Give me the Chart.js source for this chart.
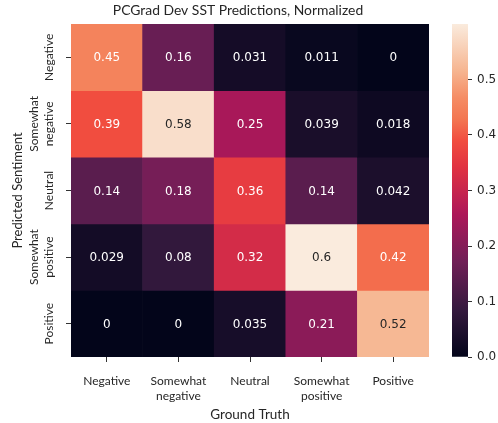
<!DOCTYPE html>
<html>
<head>
<meta charset="utf-8">
<script src="https://cdn.jsdelivr.net/npm/chart.js@4"></script>
<style>
    body { margin: 0; background: #ffffff; }
    #main { position: absolute; left: 0; top: 0; width: 476px; height: 423px; }
    #bar { position: absolute; left: 440px; top: 0; width: 58px; height: 423px; }
</style>
</head>
<body>
<div id="main"><canvas id="heatmap"></canvas></div>
<div id="bar"><canvas id="colorbar"></canvas></div>
<script>
// Ground truth (columns) and predicted sentiment (rows)
const truthLabels = ['Negative', ['Somewhat', 'negative'], 'Neutral', ['Somewhat', 'positive'], 'Positive'];
const predLabels = ['Negative', ['Somewhat', 'negative'], 'Neutral', ['Somewhat', 'positive'], 'Positive'];

// One array per predicted row, values by ground-truth column
const predNegative = [0.45, 0.16, 0.031, 0.011, 0];
const predSomewhatNegative = [0.39, 0.58, 0.25, 0.039, 0.018];
const predNeutral = [0.14, 0.18, 0.36, 0.14, 0.042];
const predSomewhatPositive = [0.029, 0.08, 0.32, 0.6, 0.42];
const predPositive = [0, 0, 0.035, 0.21, 0.52];
const rows = [predNegative, predSomewhatNegative, predNeutral, predSomewhatPositive, predPositive];

const colorbarTicks = [0, 0.1, 0.2, 0.3, 0.4, 0.5];
const vmin = 0;
const vmax = Math.max(...rows.flat());

const chartTitle = 'PCGrad Dev SST Predictions, Normalized';

// seaborn "rocket" colormap, [position, colour]
const rocket = [
    [0, '#03051a'],
    [1 / 7, '#35193e'],
    [2 / 7, '#701f57'],
    [3 / 7, '#ad1759'],
    [4 / 7, '#e13342'],
    [0.65, '#f14d3f'],
    [5 / 7, '#f37651'],
    [0.78, '#f58d65'],
    [6 / 7, '#f6b48f'],
    [1, '#faebdd']
];

function hexToRgb(h) {
    return [parseInt(h.slice(1, 3), 16), parseInt(h.slice(3, 5), 16), parseInt(h.slice(5, 7), 16)];
}

function rocketColor(t) {
    t = Math.min(1, Math.max(0, t));
    let i = 0;
    while (i < rocket.length - 2 && t > rocket[i + 1][0]) i++;
    const f = (t - rocket[i][0]) / (rocket[i + 1][0] - rocket[i][0]);
    const a = hexToRgb(rocket[i][1]);
    const b = hexToRgb(rocket[i + 1][1]);
    return a.map((v, k) => Math.round(v + (b[k] - v) * f));
}

function cellColor(v) {
    const c = rocketColor((v - vmin) / (vmax - vmin));
    return `rgb(${c[0]}, ${c[1]}, ${c[2]})`;
}

// same rule seaborn uses to pick annotation colour
function textColor(v) {
    const lin = rocketColor((v - vmin) / (vmax - vmin)).map(x => {
        x = x / 255;
        return x <= 0.03928 ? x / 12.92 : Math.pow((x + 0.055) / 1.055, 2.4);
    });
    const lum = 0.2126 * lin[0] + 0.7152 * lin[1] + 0.0722 * lin[2];
    return lum > 0.408 ? '#262626' : '#ffffff';
}

function fmt(v) {
    return parseFloat(v.toPrecision(2)).toString();
}

// Draw the numbers inside each cell
const annotatePlugin = {
    id: 'annotate',
    afterDatasetsDraw(chart) {
        const ctx = chart.ctx;
        ctx.save();
        ctx.font = '12px "DejaVu Sans"';
        ctx.textAlign = 'center';
        ctx.textBaseline = 'middle';
        chart.data.datasets.forEach((ds, r) => {
            const meta = chart.getDatasetMeta(r);
            meta.data.forEach((bar, c) => {
                const p = bar.getCenterPoint();
                ctx.fillStyle = textColor(rows[r][c]);
                ctx.fillText(fmt(rows[r][c]), p.x, p.y + 1);
            });
        });
        ctx.restore();
    }
};

// Rotated row labels on the left axis, plus the figure title
const labelPlugin = {
    id: 'labels',
    afterDraw(chart) {
        const ctx = chart.ctx;
        const y = chart.scales.y;
        const area = chart.chartArea;
        ctx.save();
        ctx.fillStyle = '#262626';
        ctx.textAlign = 'center';

        ctx.font = '13.9px Lato';
        ctx.textBaseline = 'middle';
        ctx.fillText(chartTitle, 238, 11);

        ctx.font = '12px Lato';
        ctx.textBaseline = 'alphabetic';
        predLabels.forEach((label, i) => {
            const lines = Array.isArray(label) ? label : [label];
            ctx.save();
            ctx.translate(area.left - 18, y.getPixelForValue(i + 0.5));
            ctx.rotate(-Math.PI / 2);
            lines.forEach((line, j) => {
                ctx.fillText(line, 0, -(lines.length - 1 - j) * 15);
            });
            ctx.restore();
        });
        ctx.restore();
    }
};

const datasets = rows.map((vals, r) => ({
    data: vals.map(() => [r, r + 1]),
    backgroundColor: vals.map(v => cellColor(v)),
    borderWidth: 0,
    barPercentage: 1,
    categoryPercentage: 1,
    grouped: false
}));

new Chart(document.getElementById('heatmap'), {
    type: 'bar',
    data: { labels: truthLabels, datasets: datasets },
    options: {
        responsive: true,
        maintainAspectRatio: false,
        animation: false,
        layout: { padding: { left: 0, right: 47, top: 24, bottom: 0 } },
        plugins: {
            legend: { display: false },
            tooltip: { enabled: false },
            title: { display: false }
        },
        scales: {
            x: {
                afterFit: (scale) => { scale.height = 66; },
                grid: { display: true, drawOnChartArea: false, offset: false, tickLength: 5, tickColor: '#333333' },
                border: { display: false },
                ticks: {
                    color: '#262626',
                    font: { family: 'Lato', size: 12, lineHeight: 1.3 },
                    maxRotation: 0,
                    autoSkip: false,
                    padding: 11
                },
                title: {
                    display: true,
                    text: 'Ground Truth',
                    color: '#262626',
                    font: { family: 'Lato', size: 13.5 },
                    padding: { top: 0, bottom: 0 }
                }
            },
            y: {
                min: 0,
                max: 5,
                reverse: true,
                afterFit: (scale) => { scale.width = 71; },
                afterBuildTicks: (scale) => {
                    scale.ticks = predLabels.map((_, i) => ({ value: i + 0.5 }));
                },
                grid: { display: true, drawOnChartArea: false, tickLength: 5, tickColor: '#333333' },
                border: { display: false },
                ticks: { callback: () => '' },
                title: {
                    display: true,
                    text: 'Predicted Sentiment',
                    color: '#262626',
                    font: { family: 'Lato', size: 13 },
                    padding: { top: 10, bottom: 0 }
                }
            }
        }
    },
    plugins: [annotatePlugin, labelPlugin]
});

// Colour bar
new Chart(document.getElementById('colorbar'), {
    type: 'bar',
    data: {
        labels: [''],
        datasets: [{
            data: [[vmin, vmax]],
            backgroundColor: (context) => {
                const chart = context.chart;
                if (!chart.chartArea) return rocket[0][1];
                const y = chart.scales.y;
                const g = chart.ctx.createLinearGradient(0, y.getPixelForValue(vmin), 0, y.getPixelForValue(vmax));
                rocket.forEach(([pos, c]) => g.addColorStop(pos, c));
                return g;
            },
            borderWidth: 0,
            barPercentage: 1,
            categoryPercentage: 1
        }]
    },
    options: {
        responsive: true,
        maintainAspectRatio: false,
        animation: false,
        layout: { padding: { left: 12, right: 0, top: 24, bottom: 66 } },
        plugins: { legend: { display: false }, tooltip: { enabled: false } },
        scales: {
            x: { display: false },
            y: {
                position: 'right',
                min: vmin,
                max: vmax,
                afterFit: (scale) => { scale.width = 30; },
                afterBuildTicks: (scale) => {
                    scale.ticks = colorbarTicks.map(v => ({ value: v }));
                },
                grid: { display: true, drawOnChartArea: false, tickLength: 4, tickColor: '#333333' },
                border: { display: false },
                ticks: {
                    color: '#262626',
                    font: { family: 'DejaVu Sans', size: 12 },
                    padding: 5,
                    callback: (v) => v.toFixed(1)
                }
            }
        }
    }
});
</script>
</body>
</html>
